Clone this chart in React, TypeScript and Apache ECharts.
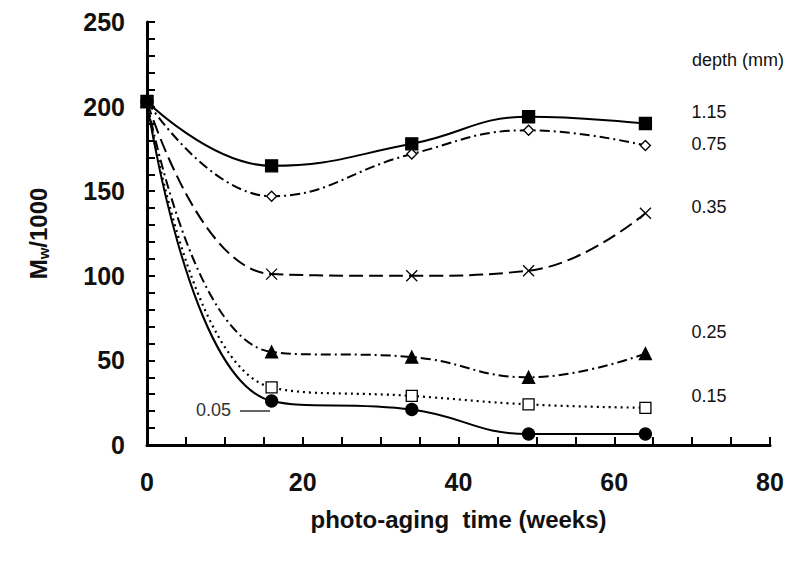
import React, { useEffect, useRef } from 'react';
import * as echarts from 'echarts';

const weeks = [0, 16, 34, 49, 64];
const d115 = [203, 165, 178, 194, 190];
const d075 = [203, 147, 172, 186, 177];
const d035 = [203, 101, 100, 103, 137];
const d025 = [203, 55, 52, 40, 54];
const d015 = [203, 34, 29, 24, 22];
const d005 = [203, 26, 21, 6.5, 6.5];
const xTicks = [0, 20, 40, 60, 80];

const App: React.FC = () => {
  const chartRef = useRef<HTMLDivElement>(null);

  useEffect(() => {
    if (!chartRef.current) return;
    const chart = echarts.init(chartRef.current, undefined, { renderer: 'svg' });
    const font = 'Liberation Sans, Arial, sans-serif';
    const mk = (name: string, data: number[], symbol: string, size: number, fill: string,
      type: any, width: number, dy: number) => ({
      name, type: 'line', smooth: 0.45,
      data: weeks.map((w, i) => [w, data[i]]),
      symbol, symbolSize: size,
      itemStyle: { color: fill, borderColor: '#000', borderWidth: 1.3 },
      lineStyle: { color: '#000', width, type },
      endLabel: name === '0.05' ? { show: false } : {
        show: true, formatter: name, offset: [38, dy], color: '#111',
        fontSize: 18, fontFamily: font,
      },
    });
    chart.setOption({
      animation: false,
      grid: { left: 139, right: 22, top: 14, bottom: 132 },
      xAxis: {
        type: 'value', min: 0, max: 80, interval: 20,
        name: 'photo-aging  time (weeks)', nameLocation: 'middle', nameGap: 62,
        nameTextStyle: { fontSize: 24, fontWeight: 'bold', color: '#111', fontFamily: font },
        axisLine: { lineStyle: { color: '#000', width: 3 } },
        axisTick: { inside: true, length: 8, lineStyle: { color: '#000', width: 2 } },
        minorTick: { show: true, splitNumber: 4, length: 8, lineStyle: { color: '#000', width: 2 } },
        axisLabel: {
          fontSize: 25, fontWeight: 'bold', color: '#111', fontFamily: font, margin: 24,
          formatter: (v: number) => (xTicks.includes(v) ? String(v) : ''),
        },
        splitLine: { show: false },
      },
      yAxis: {
        type: 'value', min: 0, max: 250, interval: 50,
        name: '{m|M}{s|w}{m|/1000}', nameLocation: 'middle', nameGap: 96,
        nameTextStyle: {
          fontSize: 24, fontWeight: 'bold', color: '#111', fontFamily: font,
          rich: {
            m: { fontSize: 24, fontWeight: 'bold', fontFamily: font, color: '#111' },
            s: { fontSize: 15, fontWeight: 'bold', fontFamily: font, color: '#111', padding: [10, 0, 0, 0] },
          },
        },
        axisLine: { show: true, lineStyle: { color: '#000', width: 3 } },
        axisTick: { show: true, inside: true, length: 8, lineStyle: { color: '#000', width: 2 } },
        minorTick: { show: true, splitNumber: 5, length: 8, lineStyle: { color: '#000', width: 2 } },
        axisLabel: { fontSize: 25, fontWeight: 'bold', color: '#111', fontFamily: font, margin: 22 },
        splitLine: { show: false },
      },
      graphic: [
        { type: 'text', left: 684, top: 43, style: { text: 'depth (mm)', fontSize: 18, fill: '#111', fontFamily: font } },
        { type: 'text', left: 188, top: 393, style: { text: '0.05', fontSize: 18, fill: '#333', fontFamily: font } },
        { type: 'line', shape: { x1: 232, y1: 403, x2: 262, y2: 403 }, style: { stroke: '#666', lineWidth: 2 } },
      ],
      series: [
        mk('1.15', d115, 'rect', 12, '#000', 'solid', 2, -12),
        mk('0.75', d075, 'diamond', 10, '#fff', [10, 4, 2, 4], 2, -2),
        mk('0.35', d035, 'path://M0,0L10,10M10,0L0,10', 11, '#000', [14, 6], 2, -6),
        mk('0.25', d025, 'triangle', 12, '#000', [10, 4, 2, 4], 2, -22),
        mk('0.15', d015, 'rect', 11, '#fff', [2, 4], 2.2, -12),
        mk('0.05', d005, 'circle', 12, '#000', 'solid', 2, 0),
      ],
    });
    return () => chart.dispose();
  }, []);

  return <div ref={chartRef} style={{ width: 784, height: 569 }} />;
};

export default App;
